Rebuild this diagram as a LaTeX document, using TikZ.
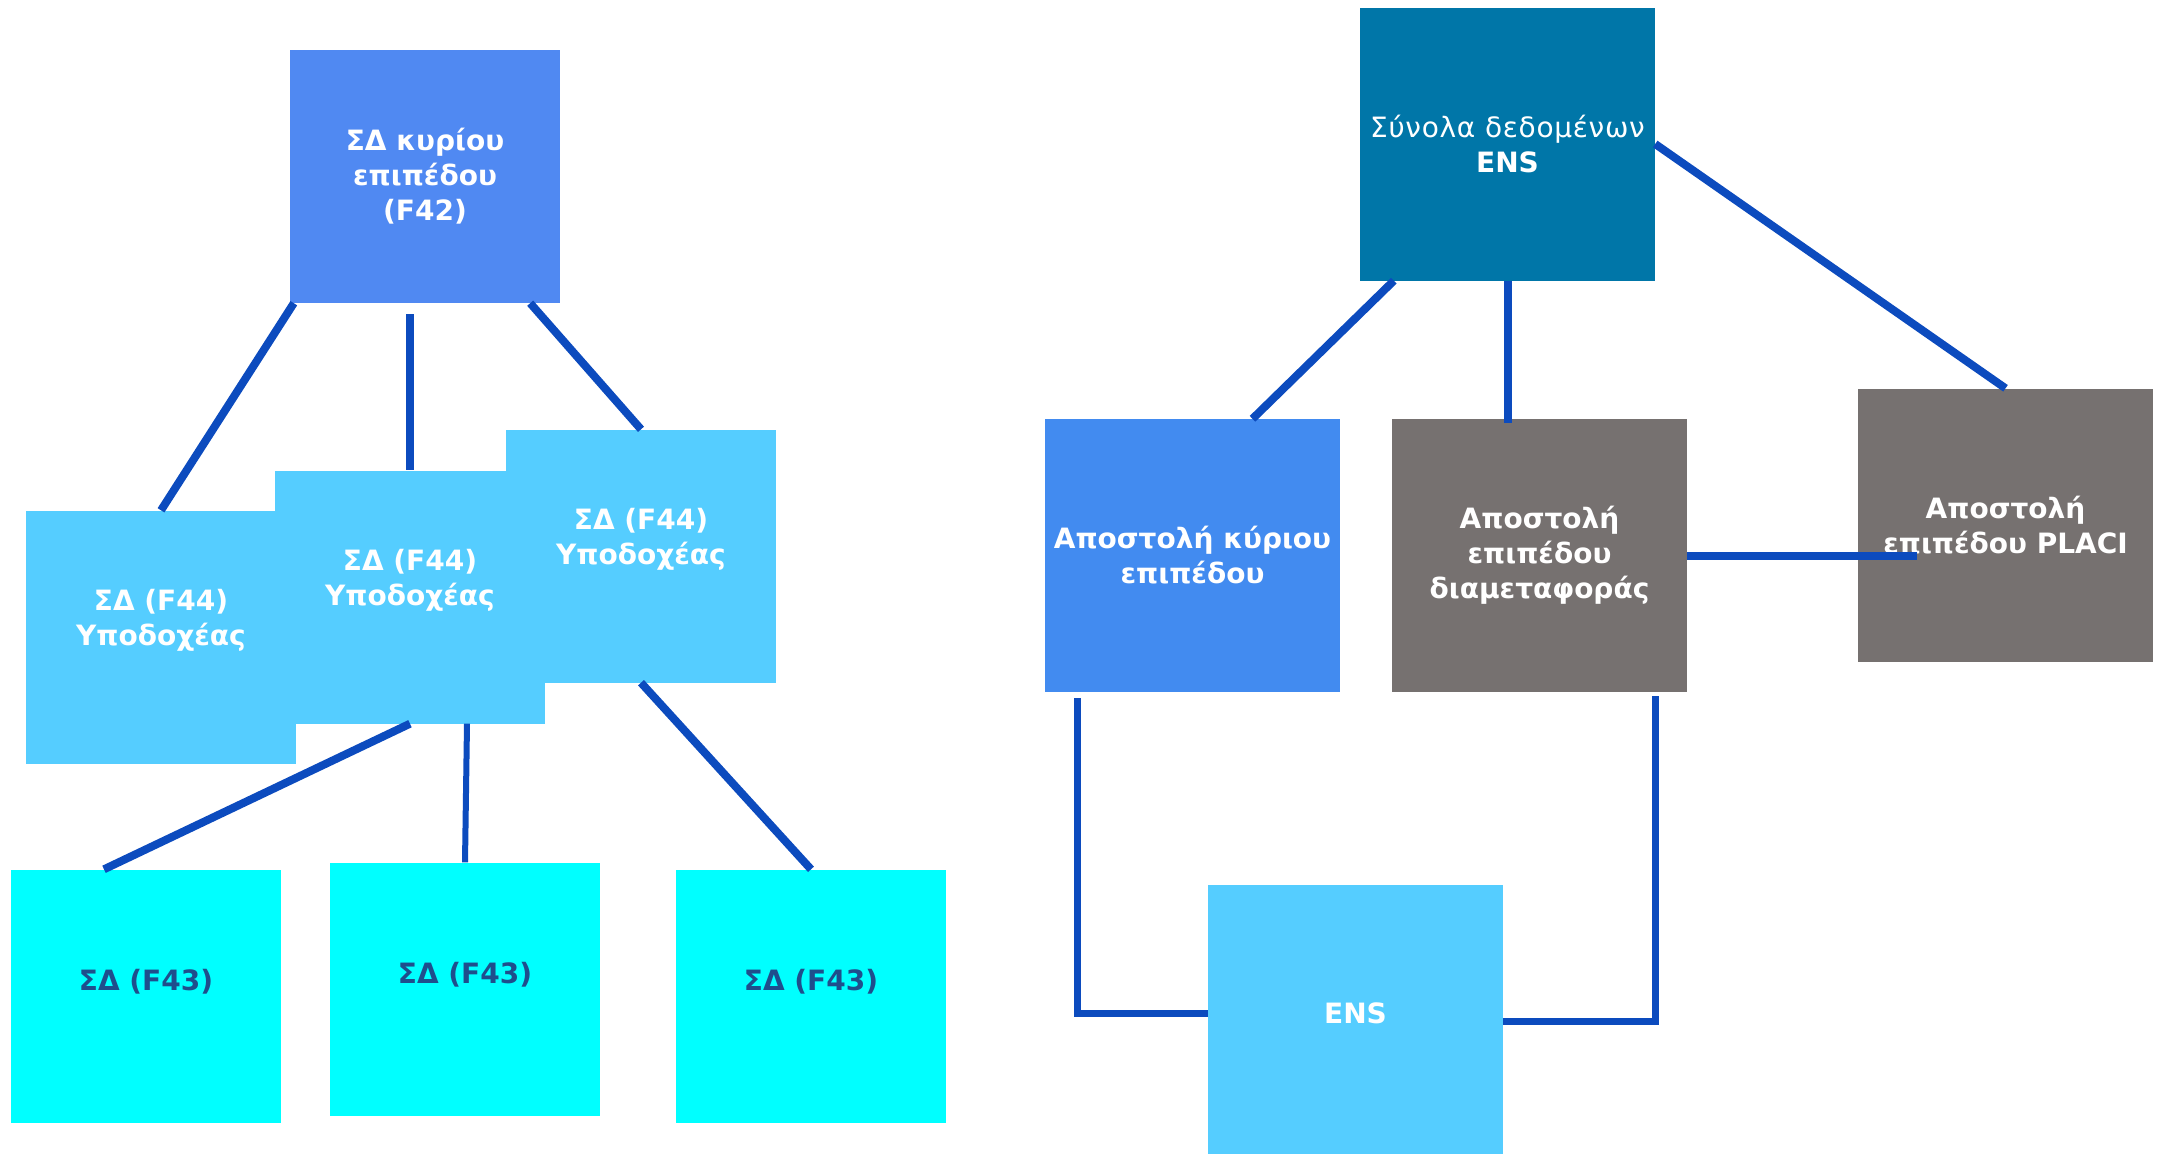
\documentclass[tikz,border=0pt]{standalone}
\usepackage{fontspec}
\setmainfont{DejaVu Sans}
\usepackage{tikz}
\usetikzlibrary{calc}

\definecolor{mainblue}{RGB}{80,137,242}
\definecolor{recblue}{RGB}{85,205,255}
\definecolor{subcyan}{RGB}{0,255,255}
\definecolor{enstop}{RGB}{0,118,168}
\definecolor{sendblue}{RGB}{66,139,240}
\definecolor{sendgrey}{RGB}{118,113,112}
\definecolor{linkblue}{RGB}{12,75,190}
\definecolor{darktext}{RGB}{31,78,140}

\begin{document}
\begin{tikzpicture}[x=1pt,y=-1pt,
  box/.style={rectangle,inner sep=0pt,align=center,text=white,
    minimum width=270pt,minimum height=253pt,
    font=\bfseries\fontsize{28}{35}\selectfont},
  bigbox/.style={box,minimum width=295pt,minimum height=273pt},
  link/.style={draw=linkblue,line width=8pt},
  lbl/.style={align=center,text=white,font=\bfseries\fontsize{28}{35}\selectfont}]
 		\useasboundingbox (0,0) rectangle (2169,1154);

 		% left tree
 		\node[box,fill=mainblue]   (F42)  at (425,176.5) {ΣΔ κυρίου\\επιπέδου\\(F42)};
 		\node[box,fill=recblue,label={[lbl,yshift=17pt]center:ΣΔ (F44)\\Υποδοχέας}] (F44a) at (161,637) {};
 		\node[box,fill=recblue,label={[lbl,yshift=17pt]center:ΣΔ (F44)\\Υποδοχέας}] (F44b) at (410,597) {};
 		\node[box,fill=recblue,label={[lbl,yshift=17pt]center:ΣΔ (F44)\\Υποδοχέας}] (F44c) at (641,556) {};
 		\node[box,fill=subcyan,label={[lbl,text=darktext,yshift=14pt]center:ΣΔ (F43)}] (F43a) at (146,996) {};
 		\node[box,fill=subcyan,label={[lbl,text=darktext,yshift=14pt]center:ΣΔ (F43)}] (F43b) at (465,989) {};
 		\node[box,fill=subcyan,label={[lbl,text=darktext,yshift=14pt]center:ΣΔ (F43)}] (F43c) at (811,996) {};

 		\draw[link] ([xshift=4pt]F42.south west) -- (F44a.north);
 		\draw[link] ([yshift=-11pt]F44b.north |- F42.south) -- (F44b.north);
 		\draw[link] ([xshift=-30pt]F42.south east) -- (F44c.north);
 		\draw[link] (F44b.south) -- ([xshift=-42pt]F43a.north);
 		\draw[link,line width=6pt] ([xshift=57pt]F44b.south) -- (F43b.north);
 		\draw[link] (F44c.south) -- (F43c.north);

 		% right tree
 		\node[bigbox,fill=enstop]   (ENS)   at (1507.5,144)  {{\mdseries\addfontfeature{LetterSpace=2.5}Σύνολα δεδομένων}\\ENS};
 		\node[bigbox,fill=sendblue] (Main)  at (1192.5,555.5) {Αποστολή κύριου\\επιπέδου};
 		\node[bigbox,fill=sendgrey] (Trans) at (1539.5,555.5) {Αποστολή\\επιπέδου\\διαμεταφοράς};
 		\node[bigbox,fill=sendgrey] (Placi) at (2005.5,525)   {Αποστολή\\επιπέδου PLACI};
 		\node[bigbox,fill=recblue,label={[lbl,yshift=8pt]center:ENS}] (ENSb) at (1355.5,1021.5) {};

 		\draw[link] ([xshift=34pt]ENS.south west) -- ([xshift=60pt]Main.north);
 		\draw[link] (ENS.south) -- ([yshift=-4pt]ENS.south |- Trans.north);
 		\draw[link] (ENS.east) -- (Placi.north);
 		\draw[link] (Trans.east) -- ($(Trans.east -| Placi.west)+(59,0)$);
 		\draw[link,line width=7pt] ([xshift=33pt,yshift=-6pt]Main.south west) |- ([yshift=8pt]ENSb.west);
 		\draw[link,line width=7pt] ([xshift=-32pt,yshift=-4pt]Trans.south east) |- (ENSb.east);
 		\end{tikzpicture}
\end{document}
